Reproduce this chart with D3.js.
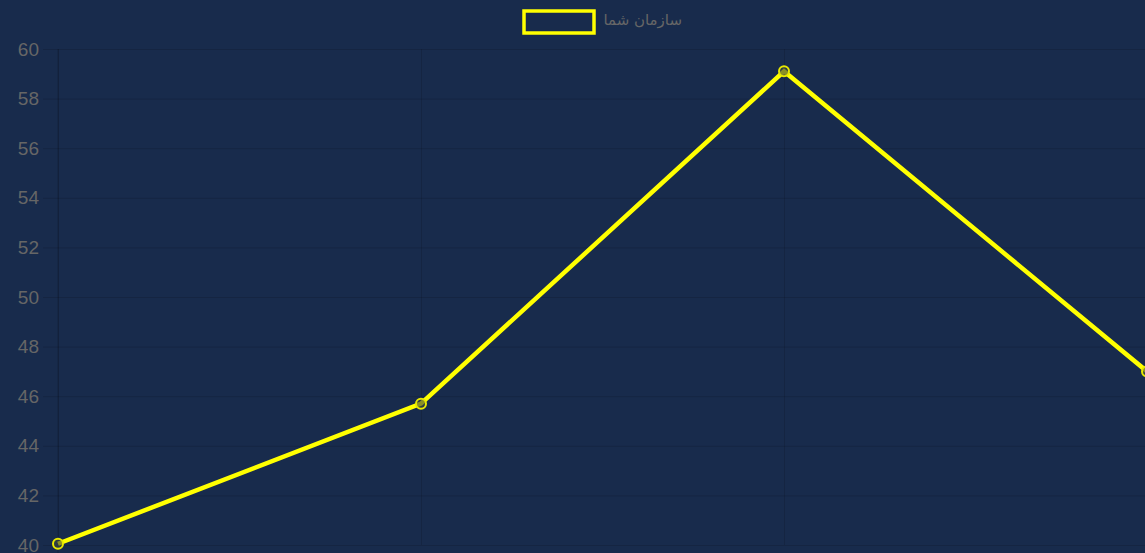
<!DOCTYPE html>
<html>
<head>
<meta charset="utf-8">
<script src="https://cdn.jsdelivr.net/npm/d3@7"></script>
<style>
    html, body { margin: 0; padding: 0; background: #182b4c; overflow: hidden; }
    svg { display: block; }
</style>
</head>
<body>
<svg id="chart"></svg>
<script>
// chart data
const categories = ["1", "2", "3", "4"];
const seriesName = "سازمان شما";
const values = [40.05, 45.7, 59.1, 47.0];
const yTicks = [40, 42, 44, 46, 48, 50, 52, 54, 56, 58, 60];

(function () {
    const width = 1145, height = 553;
    const svg = d3.select("#chart").attr("width", width).attr("height", height);

    // plot area: last point sits just past the right edge of the window,
    // x labels fall below the visible area
    const left = 58, right = 1147, top = 49, bottom = 545;

    const x = d3.scalePoint().domain(categories).range([left, right]);
    const y = d3.scaleLinear().domain([40, 60]).range([bottom, top]);

    const gridColor = "rgba(0,0,0,0.12)";

    // horizontal grid + tick marks
    const yAxis = d3.axisLeft(y)
        .tickValues(yTicks)
        .tickSize(0)
        .tickPadding(0)
        .tickFormat(d3.format("d"));
    const gy = svg.append("g")
        .attr("transform", `translate(${left - 15},0)`)
        .call(yAxis);
    gy.select(".domain").remove();
    gy.selectAll(".tick line")
        .attr("x1", 0).attr("x2", right - left + 15)
        .attr("stroke", gridColor).attr("stroke-width", 1);
    gy.selectAll(".tick text")
        .attr("x", -4)
        .attr("fill", "#666")
        .attr("font-family", "Arial, 'Liberation Sans', sans-serif")
        .attr("font-size", 19);

    // vertical grid (category labels sit off-canvas, so none drawn)
    const xAxis = d3.axisBottom(x).tickSize(-(bottom - top)).tickFormat("");
    const gx = svg.append("g")
        .attr("transform", `translate(0,${bottom})`)
        .call(xAxis);
    gx.select(".domain").remove();
    gx.selectAll(".tick line").attr("stroke", gridColor).attr("stroke-width", 1);

    // left axis line a touch darker
    svg.append("line")
        .attr("x1", left).attr("x2", left)
        .attr("y1", top).attr("y2", bottom + 10)
        .attr("stroke", "rgba(0,0,0,0.18)");

    // series line
    const line = d3.line()
        .x((d, i) => x(categories[i]))
        .y(d => y(d));
    svg.append("path")
        .datum(values)
        .attr("d", line)
        .attr("fill", "none")
        .attr("stroke", "#ffff00")
        .attr("stroke-width", 4.5)
        .attr("stroke-linejoin", "miter");

    svg.selectAll("circle.pt")
        .data(values)
        .enter().append("circle")
        .attr("class", "pt")
        .attr("cx", (d, i) => x(categories[i]))
        .attr("cy", d => y(d))
        .attr("r", 5)
        .attr("fill", "rgba(60,70,60,0.6)")
        .attr("stroke", "#e8e800")
        .attr("stroke-width", 2);

    // legend
    const legend = svg.append("g");
    legend.append("rect")
        .attr("x", 524).attr("y", 11)
        .attr("width", 70).attr("height", 22)
        .attr("fill", "#182b4c")
        .attr("stroke", "#ffff00")
        .attr("stroke-width", 3.5);
    legend.append("text")
        .attr("x", 682).attr("y", 20)
        .attr("dy", "0.35em")
        .attr("text-anchor", "end")
        .attr("fill", "#666")
        .attr("font-family", "'DejaVu Sans', Arial, sans-serif")
        .attr("font-size", 15)
        .text(seriesName);
})();
</script>
</body>
</html>
